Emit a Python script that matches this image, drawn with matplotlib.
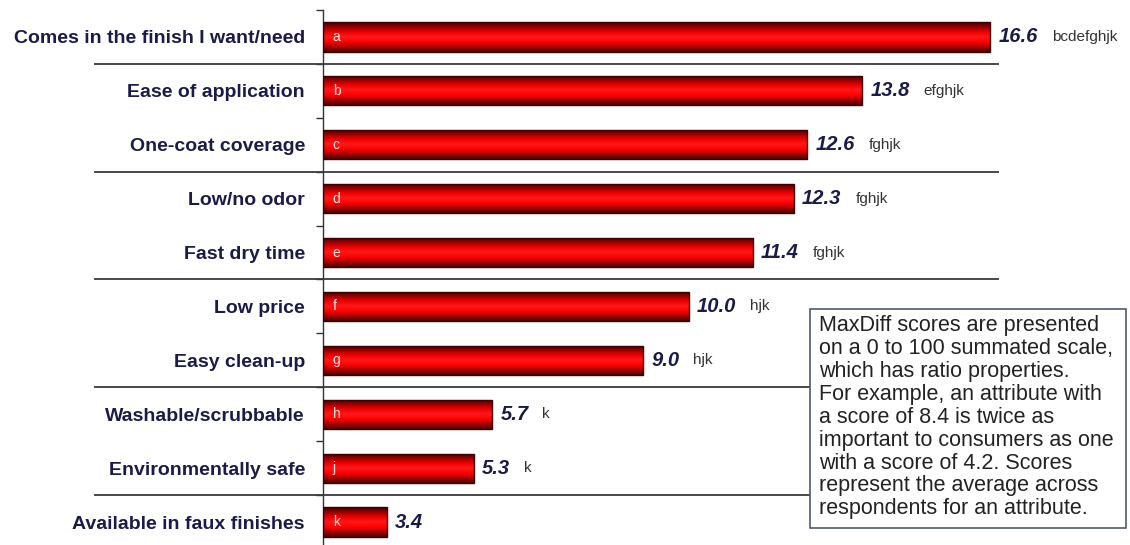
import matplotlib.pyplot as plt
import numpy as np
from matplotlib.colors import LinearSegmentedColormap
from matplotlib.patches import Rectangle

plt.rcParams['font.family'] = ['Liberation Sans', 'DejaVu Sans']

labels = ["Comes in the finish I want/need", "Ease of application", "One-coat coverage",
          "Low/no odor", "Fast dry time", "Low price", "Easy clean-up",
          "Washable/scrubbable", "Environmentally safe", "Available in faux finishes"]
codes = ["a", "b", "c", "d", "e", "f", "g", "h", "j", "k"]
scores = [16.6, 13.8, 12.6, 12.3, 11.4, 10.0, 9.0, 5.7, 5.3, 3.4]
sig_letters = ["bcdefghjk", "efghjk", "fghjk", "fghjk", "fghjk", "hjk", "hjk", "k", "k", ""]
group_breaks = [0.5, 2.5, 4.5, 6.5, 8.5]

note = ("MaxDiff scores are presented\n"
        "on a 0 to 100 summated scale,\n"
        "which has ratio properties.\n"
        "For example, an attribute with\n"
        "a score of 8.4 is twice as\n"
        "important to consumers as one\n"
        "with a score of 4.2. Scores\n"
        "represent the average across\n"
        "respondents for an attribute.")

NAVY = '#1b1b4b'
W, H = 1130, 545
XMIN = 2  # value axis starts at 2, not 0

red_shade = LinearSegmentedColormap.from_list(
    'tube', ['#4a0000', '#a80000', '#ff0000', '#ff1a1a', '#f00000', '#980000', '#400000'])


def main():
    fig = plt.figure(figsize=(W / 100, H / 100), dpi=100)
    ax = fig.add_axes([323 / W, 0, 1 - 323 / W, 1 - 10 / H])
    draw_bars(ax)
    format_axes(ax)
    draw_note(fig)
    fig.savefig('out.png', dpi=100)


def draw_bars(ax):
    y = np.arange(len(scores))
    h = 0.54
    widths = [s - XMIN for s in scores]
    bars = ax.barh(y, widths, left=XMIN, height=h, color='none',
                   edgecolor='#3c0000', lw=1, zorder=3)
    grad = np.linspace(0, 1, 64).reshape(-1, 1)
    for bar, s, yi in zip(bars, scores, y):
        im = ax.imshow(grad, extent=(XMIN, s, yi - h / 2, yi + h / 2), cmap=red_shade,
                       aspect='auto', zorder=2, interpolation='bilinear')
        im.set_clip_path(bar)

    for s, yi, code, sg in zip(scores, y, codes, sig_letters):
        ax.annotate(code, xy=(XMIN, yi), xytext=(7, 0), textcoords='offset points',
                    va='center', ha='left', fontsize=10, color='#ffe4e4', zorder=4)
        t = ax.annotate(f"{s:.1f}", xy=(s, yi), xytext=(6, 0), textcoords='offset points',
                        va='center', ha='left', fontsize=14.5, fontweight='bold',
                        fontstyle='italic', color=NAVY)
        if sg:
            ax.annotate(sg, xy=(1, 0.5), xycoords=t, xytext=(10, 0),
                        textcoords='offset points', va='center', ha='left',
                        fontsize=11, color='#333333')

    # group separators
    ax.hlines(group_breaks, -3.0, 16.8, color='#3a3a3a', lw=1.3, clip_on=False, zorder=4)


def format_axes(ax):
    n = len(labels)
    ax.set_xlim(XMIN, XMIN + (W - 323) / 45.7)
    ax.set_ylim(n - 0.574, -0.5)
    ax.set_xticks([])
    ax.set_yticks(np.arange(n))
    ax.set_yticklabels(labels, fontsize=14, fontweight='bold', color=NAVY)
    ax.set_yticks(np.arange(-0.5, n - 0.5, 1), minor=True)
    ax.tick_params(axis='y', which='major', length=0, pad=13)
    ax.tick_params(axis='y', which='minor', length=5, width=1, color='#333333')
    for side in ['top', 'right', 'bottom']:
        ax.spines[side].set_visible(False)
    ax.spines['left'].set_color('#333333')
    ax.spines['left'].set_linewidth(1)


def draw_note(fig):
    box = Rectangle((810 / W, 1 - 528 / H), 316 / W, 219 / H, transform=fig.transFigure,
                    facecolor='white', edgecolor='#4d5b6b', lw=1.2, zorder=5)
    fig.add_artist(box)
    fig.text(819 / W, 1 - 315 / H, note, va='top', ha='left', fontsize=15.5,
             linespacing=1.12, color='#222222', zorder=6)


if __name__ == '__main__':
    main()
